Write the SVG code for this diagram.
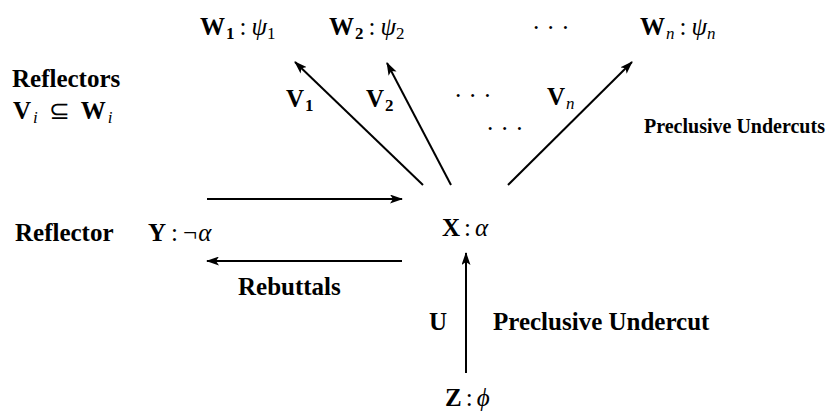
<svg xmlns="http://www.w3.org/2000/svg" width="832" height="412" viewBox="0 0 832 412">
<style>
.t{font-family:"Liberation Serif","Times New Roman",serif;font-weight:bold;font-size:25px;fill:#000}
.m{font-family:"Liberation Serif","Times New Roman",serif;font-size:25px;fill:#000}
.b{font-weight:bold}
.i{font-style:italic}
.s{font-size:17px}
.pu{font-family:"Liberation Serif","Times New Roman",serif;font-weight:bold;font-size:20px;fill:#000}
.e{stroke:#000;stroke-width:2;fill:none;marker-end:url(#ah)}
</style>
<defs>
<marker id="ah" markerWidth="13" markerHeight="9" refX="12" refY="4.5" orient="auto" markerUnits="userSpaceOnUse">
<path d="M0,0 L13,4.5 L0,9 L3,4.5 Z" fill="#000"/>
</marker>
</defs>
<rect width="832" height="412" fill="#fff"/>
<g id="connectors">
<line class="e" x1="423" y1="185" x2="295" y2="62"/>
<line class="e" x1="451" y1="185" x2="387" y2="63"/>
<line class="e" x1="508" y1="185" x2="632" y2="62"/>
<line class="e" x1="207" y1="199" x2="402" y2="199"/>
<line class="e" x1="402" y1="261" x2="207" y2="261"/>
<line class="e" x1="466" y1="373" x2="466" y2="253"/>
</g>
<g id="node-W1"><text class="m" x="200" y="35"><tspan class="b">W</tspan><tspan class="s b" dy="4" dx="1">1</tspan><tspan dy="-4" dx="5">:</tspan><tspan class="i" dx="5">ψ</tspan><tspan class="s" dy="4">1</tspan></text></g>
<g id="node-W2"><text class="m" x="329" y="35"><tspan class="b">W</tspan><tspan class="s b" dy="4" dx="1">2</tspan><tspan dy="-4" dx="5">:</tspan><tspan class="i" dx="5">ψ</tspan><tspan class="s" dy="4">2</tspan></text></g>
<g id="dots-top"><text class="m" x="532" y="36">· · ·</text></g>
<g id="node-Wn"><text class="m" x="640" y="35"><tspan class="b">W</tspan><tspan class="s i" dy="4" dx="1">n</tspan><tspan dy="-4" dx="5">:</tspan><tspan class="i" dx="5">ψ</tspan><tspan class="s i" dy="4">n</tspan></text></g>
<g id="label-reflectors">
<text class="t" x="12" y="87">Reflectors</text>
<text class="m" x="13" y="119"><tspan class="b">V</tspan><tspan class="s i" dy="4" dx="2">i</tspan><tspan dy="-4" dx="11">⊆</tspan><tspan class="b" dx="11">W</tspan><tspan class="s i" dy="4" dx="2">i</tspan></text>
</g>
<g id="label-V1"><text class="m" x="286" y="107"><tspan class="b">V</tspan><tspan class="s b" dy="4" dx="1">1</tspan></text></g>
<g id="label-V2"><text class="m" x="366" y="107"><tspan class="b">V</tspan><tspan class="s b" dy="4" dx="1">2</tspan></text></g>
<g id="dots-mid"><text class="m" x="454" y="104">· · ·</text><text class="m" x="486" y="137">· · ·</text></g>
<g id="label-Vn"><text class="m" x="547" y="105"><tspan class="b">V</tspan><tspan class="s i" dy="4" dx="1">n</tspan></text></g>
<g id="label-pu-top"><text class="pu" x="644" y="133">Preclusive Undercuts</text></g>
<g id="node-X"><text class="m" x="442" y="236"><tspan class="b">X</tspan><tspan dx="4">:</tspan><tspan class="i" dx="4">α</tspan></text></g>
<g id="label-reflector"><text class="t" x="15" y="241">Reflector</text></g>
<g id="node-Y"><text class="m" x="148" y="241"><tspan class="b">Y</tspan><tspan dx="5">:</tspan><tspan dx="5">¬</tspan><tspan class="i" dx="1">α</tspan></text></g>
<g id="label-rebuttals"><text class="t" x="238" y="295">Rebuttals</text></g>
<g id="label-U"><text class="m b" x="429" y="330">U</text></g>
<g id="label-pu-bottom"><text class="t" x="493" y="330">Preclusive Undercut</text></g>
<g id="node-Z"><text class="m" x="445" y="406"><tspan class="b">Z</tspan><tspan dx="4">:</tspan><tspan class="i" dx="4">ϕ</tspan></text></g>
</svg>
